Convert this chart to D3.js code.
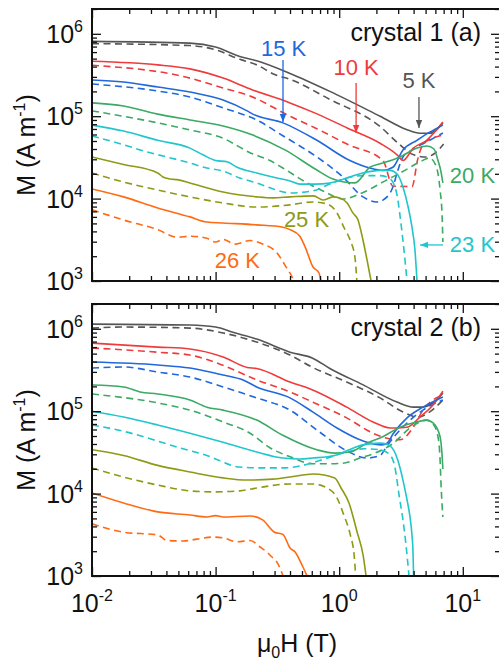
<!DOCTYPE html>
<html>
<head>
<meta charset="utf-8">
<script src="https://cdnjs.cloudflare.com/ajax/libs/d3/7.8.5/d3.min.js"></script>
<style>
  body { margin: 0; background: #fff; }
  svg { display: block; font-family: "Liberation Sans", Arial, sans-serif; }
</style>
</head>
<body>
<svg id="chart" width="499" height="661"></svg>
<script>
// Temperatures and their colours
const temps = ["5 K", "10 K", "15 K", "20 K", "23 K", "25 K", "26 K"];
const colors = ["#555555", "#ef3b3b", "#2068dc", "#3aaa64", "#1fc6cc", "#8e9a14", "#ff6a13"];

// Axis ticks
const xMajor = [0.01, 0.1, 1, 10];
const xMajorLabels = ["-2", "-1", "0", "1"];
const yMajor = [1e3, 1e4, 1e5, 1e6];
const yMajorLabels = ["3", "4", "5", "6"];

// Crystal 1: M (A/m) vs mu0H (T); solid and dashed branch per temperature
const c1_5K = [[0.01,8.1e5],[0.062,7.7e5],[0.1,6.9e5],[0.157,5.3e5],[0.215,4.7e5],[0.4,3.3e5],[0.84,2.0e5],[2.14,1.0e5],[3.5,6.9e4],[4.5,6.2e4],[5.4,6.2e4],[6.9,8.3e4]];
const c1_5K_d = [[0.01,7.6e5],[0.062,7.2e5],[0.1,6.4e5],[0.157,4.9e5],[0.215,4.2e5],[0.3,3.2e5],[0.4,2.8e5],[0.84,1.6e5],[2.14,7.5e4],[3.0,4.7e4],[4.0,3.4e4],[5.0,3.2e4],[6.0,3.6e4],[7.0,4.6e4]];
const c1_10K = [[0.01,4.65e5],[0.034,4.2e5],[0.062,3.75e5],[0.115,2.9e5],[0.197,2.1e5],[0.4,1.45e5],[0.64,1.09e5],[1.16,7.2e4],[2.14,4.7e4],[2.94,3.4e4],[3.28,2.9e4],[3.98,4.1e4],[5.1,5.1e4],[6.9,8.5e4]];
const c1_10K_d = [[0.01,4.15e5],[0.062,2.9e5],[0.115,2.2e5],[0.19,1.76e5],[0.4,1.0e5],[0.64,7.2e4],[1.19,4.5e4],[2.26,2.9e4],[2.72,1.42e4],[3.88,1.4e4],[4.34,3.1e4],[4.85,4.7e4],[6.9,5.9e4]];
const c1_15K = [[0.01,2.75e5],[0.018,2.6e5],[0.034,2.26e5],[0.062,1.97e5],[0.115,1.57e5],[0.18,1.16e5],[0.2,1.06e5],[0.351,8.3e4],[0.66,5.1e4],[1.22,2.9e4],[1.77,2.35e4],[2.26,2.2e4],[2.72,2.4e4],[3.28,3.9e4],[4.26,5.1e4],[5.4,6.4e4],[6.9,7.8e4]];
const c1_15K_d = [[0.01,2.46e5],[0.034,2.02e5],[0.062,1.71e5],[0.115,1.26e5],[0.215,9.0e4],[0.35,5.8e4],[0.66,3.2e4],[1.07,1.83e4],[1.56,1.05e4],[2.02,9.1e3],[2.26,9.6e3],[2.72,1.38e4],[2.94,2.05e4],[3.28,3.2e4],[3.88,3.9e4],[5.4,5.1e4],[6.9,6.25e4]];
const c1_20K = [[0.01,1.45e5],[0.018,1.33e5],[0.034,1.06e5],[0.062,9.0e4],[0.115,7.6e4],[0.2,5.9e4],[0.364,3.9e4],[0.66,2.22e4],[0.89,1.73e4],[1.34,1.55e4],[1.77,2.4e4],[2.26,2.7e4],[3.1,3.2e4],[4.26,4.1e4],[5.13,4.35e4],[5.85,4.0e4],[6.3,2.9e4],[6.67,2.1e4],[6.9,1.55e4]];
const c1_20K_d = [[0.01,1.16e5],[0.034,8.3e4],[0.062,6.8e4],[0.115,5.4e4],[0.19,3.6e4],[0.275,2.9e4],[0.35,2.35e4],[0.55,1.55e4],[0.74,1.24e4],[1.07,9.9e3],[1.47,1.14e4],[2.35,1.64e4],[3.4,2.2e4],[4.5,2.8e4],[5.4,3.1e4],[6.07,2.5e4],[6.55,1.27e4],[6.8,6.3e3],[6.9,2.97e3]];
const c1_23K = [[0.01,7.8e4],[0.018,6.6e4],[0.034,5.1e4],[0.062,4.1e4],[0.079,3.4e4],[0.1,2.9e4],[0.124,2.8e4],[0.149,2.4e4],[0.215,2.05e4],[0.314,1.78e4],[0.4,1.64e4],[0.48,1.5e4],[0.64,1.5e4],[0.84,1.55e4],[1.15,1.78e4],[1.55,2.05e4],[2.14,2.2e4],[2.58,2.2e4],[2.94,1.99e4],[3.28,1.38e4],[3.6,8.1e3],[3.88,4.5e3],[4.1,2.4e3],[4.26,1.0e3]];
const c1_23K_d = [[0.01,5.75e4],[0.018,4.5e4],[0.0245,3.9e4],[0.062,2.7e4],[0.085,2.35e4],[0.115,2.16e4],[0.157,1.78e4],[0.215,1.55e4],[0.31,1.27e4],[0.4,1.17e4],[0.61,1.24e4],[0.84,1.5e4],[1.15,1.78e4],[1.53,1.9e4],[2.14,1.9e4],[2.58,1.74e4],[2.94,1.1e4],[3.1,6.3e3],[3.28,3.1e3],[3.54,1.0e3]];
const c1_25K = [[0.01,3.2e4],[0.018,2.6e4],[0.034,2.05e4],[0.0375,1.83e4],[0.0428,1.73e4],[0.0487,1.7e4],[0.062,1.55e4],[0.115,1.2e4],[0.215,1.05e4],[0.29,1.02e4],[0.4,1.05e4],[0.62,1.08e4],[0.74,9.6e3],[0.89,1.05e4],[1.01,1.02e4],[1.16,8.85e3],[1.29,6.7e3],[1.42,5.5e3],[1.56,3.1e3],[1.68,1.8e3],[1.81,1.0e3]];
const c1_25K_d = [[0.01,2.05e4],[0.018,1.59e4],[0.034,1.27e4],[0.062,1.05e4],[0.115,8.85e3],[0.215,7.9e3],[0.4,8.4e3],[0.61,9.1e3],[0.8,8.6e3],[0.96,6.7e3],[1.09,4.5e3],[1.23,3.1e3],[1.34,1.95e3],[1.39,1.0e3]];
const c1_26K = [[0.01,1.31e4],[0.018,1.05e4],[0.034,7.7e3],[0.062,6.0e3],[0.085,5.2e3],[0.115,5.06e3],[0.215,4.8e3],[0.35,4.5e3],[0.4,4.2e3],[0.48,3.5e3],[0.53,2.6e3],[0.614,1.48e3],[0.687,1.25e3],[0.71,1.0e3]];
const c1_26K_d = [[0.01,7.3e3],[0.018,5.5e3],[0.034,4.2e3],[0.049,3.4e3],[0.062,3.5e3],[0.085,3.3e3],[0.1,2.97e3],[0.115,3.2e3],[0.144,2.8e3],[0.19,3.1e3],[0.242,2.8e3],[0.314,2.19e3],[0.364,1.56e3],[0.415,1.12e3],[0.43,1.0e3]];

// Crystal 2
const c2_5K = [[0.01,1.14e6],[0.062,1.11e6],[0.1,1.05e6],[0.138,9.1e5],[0.157,8.6e5],[0.215,7.5e5],[0.4,5.2e5],[0.61,4.4e5],[0.84,3.3e5],[1.55,2.1e5],[2.94,1.29e5],[3.98,1.12e5],[4.76,1.12e5],[5.74,1.26e5],[6.9,1.65e5]];
const c2_5K_d = [[0.01,1.02e6],[0.018,1.05e6],[0.062,1.02e6],[0.115,8.9e5],[0.215,6.9e5],[0.4,4.8e5],[0.61,3.4e5],[1.15,2.26e5],[2.14,1.45e5],[3.28,9.8e4],[4.34,8.5e4],[5.4,9.8e4],[6.9,1.37e5]];
const c2_10K = [[0.01,6.7e5],[0.034,6.0e5],[0.062,5.7e5],[0.115,4.55e5],[0.18,3.4e5],[0.215,3.3e5],[0.4,2.26e5],[0.61,1.81e5],[1.15,1.12e5],[1.88,7.4e4],[2.58,6.25e4],[3.54,6.4e4],[4.5,8.5e4],[5.74,1.19e5],[6.9,1.75e5]];
const c2_10K_d = [[0.01,5.85e5],[0.034,5.2e5],[0.062,4.8e5],[0.115,3.6e5],[0.215,2.4e5],[0.4,1.71e5],[0.61,1.29e5],[1.15,8.3e4],[1.88,5.4e4],[2.44,4.7e4],[3.1,4.5e4],[3.98,6.4e4],[4.76,1.03e5],[6.9,1.57e5]];
const c2_15K = [[0.01,3.95e5],[0.034,3.64e5],[0.062,3.34e5],[0.115,2.75e5],[0.167,2.39e5],[0.215,1.97e5],[0.4,1.45e5],[0.61,9.8e4],[0.96,6.25e4],[1.42,4.6e4],[1.77,4.1e4],[2.2,3.9e4],[2.44,4.1e4],[2.75,5.4e4],[3.54,8.3e4],[4.76,1.12e5],[6.9,1.49e5]];
const c2_15K_d = [[0.01,3.34e5],[0.018,3.44e5],[0.034,2.99e5],[0.062,2.6e5],[0.115,1.97e5],[0.215,1.45e5],[0.4,1.03e5],[0.66,5.9e4],[1.2,3.2e4],[1.68,2.7e4],[2.14,2.9e4],[2.44,3.8e4],[2.94,5.4e4],[3.54,7.2e4],[4.76,1.03e5],[6.9,1.37e5]];
const c2_20K = [[0.01,2.08e5],[0.018,1.97e5],[0.0245,1.71e5],[0.034,1.62e5],[0.062,1.37e5],[0.085,1.12e5],[0.115,1.03e5],[0.215,7.8e4],[0.35,5.1e4],[0.66,3.4e4],[0.92,3.1e4],[1.23,3.2e4],[1.68,4.1e4],[2.25,4.9e4],[3.1,6.4e4],[4.26,7.4e4],[5.1,7.8e4],[5.75,7.2e4],[6.55,4.9e4],[6.8,2.9e4],[6.9,1.99e4]];
const c2_20K_d = [[0.01,1.62e5],[0.034,1.26e5],[0.062,1.03e5],[0.115,7.4e4],[0.19,5.4e4],[0.275,3.6e4],[0.4,2.8e4],[0.61,2.3e4],[0.84,2.3e4],[1.1,2.35e4],[1.47,2.7e4],[1.95,3.1e4],[2.75,4.1e4],[3.74,6.25e4],[4.5,7.4e4],[5.1,7.8e4],[5.75,7.0e4],[6.3,4.9e4],[6.55,2.56e4],[6.67,1.27e4],[6.8,7.3e3],[6.9,5.2e3]];
const c2_23K = [[0.01,1.0e5],[0.018,8.5e4],[0.034,6.8e4],[0.062,5.4e4],[0.115,4.2e4],[0.215,3.2e4],[0.35,2.7e4],[0.48,2.63e4],[0.61,2.7e4],[0.92,2.9e4],[1.2,3.4e4],[1.55,3.9e4],[2.14,4.1e4],[2.4,4.0e4],[2.75,3.4e4],[2.99,2.5e4],[3.28,1.46e4],[3.54,8.4e3],[3.74,5.2e3],[3.88,3.15e3],[3.95,2.07e3],[4.0,1.0e3]];
const c2_23K_d = [[0.01,6.8e4],[0.018,5.7e4],[0.03,4.6e4],[0.045,3.8e4],[0.085,2.9e4],[0.157,2.1e4],[0.242,2.05e4],[0.35,2.05e4],[0.48,2.16e4],[0.74,2.6e4],[1.15,3.2e4],[1.6,3.5e4],[2.14,3.4e4],[2.6,2.9e4],[2.83,2.05e4],[3.05,9.6e3],[3.28,4.8e3],[3.47,2.4e3],[3.67,1.0e3]];
const c2_25K = [[0.01,3.4e4],[0.018,2.9e4],[0.034,2.2e4],[0.062,1.83e4],[0.115,1.55e4],[0.18,1.46e4],[0.29,1.5e4],[0.4,1.59e4],[0.62,1.73e4],[0.92,1.55e4],[1.035,1.17e4],[1.2,7.7e3],[1.39,3.5e3],[1.56,1.8e3],[1.65,1.0e3]];
const c2_25K_d = [[0.01,2.05e4],[0.018,1.59e4],[0.034,1.27e4],[0.062,1.08e4],[0.095,1.05e4],[0.157,1.08e4],[0.215,1.17e4],[0.4,1.31e4],[0.61,1.31e4],[0.8,1.17e4],[0.96,8.85e3],[1.09,5.5e3],[1.23,3.15e3],[1.32,1.8e3],[1.36,1.0e3]];
const c2_26K = [[0.01,1.02e4],[0.018,7.7e3],[0.034,6.0e3],[0.062,5.5e3],[0.085,5.2e3],[0.1,5.4e3],[0.115,5.2e3],[0.19,5.35e3],[0.24,4.8e3],[0.3,3.4e3],[0.35,3.2e3],[0.4,2.19e3],[0.44,1.95e3],[0.5,1.36e3],[0.55,1.0e3]];
const c2_26K_d = [[0.01,4.3e3],[0.018,3.4e3],[0.034,3.15e3],[0.0404,2.7e3],[0.0545,2.66e3],[0.0707,2.8e3],[0.095,2.97e3],[0.115,2.9e3],[0.149,2.6e3],[0.19,2.7e3],[0.229,2.25e3],[0.275,1.8e3],[0.332,1.25e3],[0.351,1.0e3]];

const crystal1Solid  = [c1_5K, c1_10K, c1_15K, c1_20K, c1_23K, c1_25K, c1_26K];
const crystal1Dashed = [c1_5K_d, c1_10K_d, c1_15K_d, c1_20K_d, c1_23K_d, c1_25K_d, c1_26K_d];
const crystal2Solid  = [c2_5K, c2_10K, c2_15K, c2_20K, c2_23K, c2_25K, c2_26K];
const crystal2Dashed = [c2_5K_d, c2_10K_d, c2_15K_d, c2_20K_d, c2_23K_d, c2_25K_d, c2_26K_d];

// Temperature labels in crystal 1 (field in T, moment in A/m), optional arrow
const tempLabels = [
  { t: 0, h: 4.42, m: 2.2e5,  arrow: [[4.42, 1.71e5], [4.42, 7.2e4]] },
  { t: 1, h: 1.37, m: 3.16e5, arrow: [[1.37, 2.53e5], [1.37, 6.25e4]] },
  { t: 2, h: 0.355, m: 5.38e5, arrow: [[0.351, 4.81e5], [0.351, 8.5e4]] },
  { t: 3, h: 11.97, m: 1.55e4, arrow: null },
  { t: 4, h: 11.97, m: 2.25e3, arrow: [[6.92, 2.74e3], [4.51, 2.74e3]] },
  { t: 5, h: 0.544, m: 4.52e3, arrow: null },
  { t: 6, h: 0.150, m: 1.44e3, arrow: null }
];

const svg = d3.select("#chart");
const left = 92, right = 500;
const x = d3.scaleLog().domain([0.01, 20]).range([left, right]);

const panels = [
  { top: 9,   bottom: 281, solid: crystal1Solid, dashed: crystal1Dashed, title: "crystal 1 (a)", xLabels: false },
  { top: 304, bottom: 576, solid: crystal2Solid, dashed: crystal2Dashed, title: "crystal 2 (b)", xLabels: true }
];

function minorTicks(lo, hi, max) {
  const out = [];
  for (let e = lo; e < hi; e++) for (let k = 2; k <= 9; k++) {
    const v = k * Math.pow(10, e);
    if (v <= max * 1.0001) out.push(v);
  }
  return out;
}
const xMinor = minorTicks(-2, 2, 20);
const yMinor = minorTicks(3, 7, 2e6);

const defs = svg.append("defs");
colors.forEach((c, i) => {
  defs.append("marker")
    .attr("id", "arr" + i)
    .attr("viewBox", "0 0 10 10")
    .attr("refX", 10).attr("refY", 5)
    .attr("markerWidth", 8).attr("markerHeight", 8)
    .attr("markerUnits", "userSpaceOnUse")
    .attr("orient", "auto")
    .append("path").attr("d", "M0,1L10,5L0,9z").attr("fill", c);
});

panels.forEach((p, pi) => {
  const y = d3.scaleLog().domain([1e3, 2e6]).range([p.bottom, p.top]);
  const g = svg.append("g");

  defs.append("clipPath").attr("id", "clip" + pi)
    .append("rect").attr("x", left).attr("y", p.top)
    .attr("width", right - left).attr("height", p.bottom - p.top);

  const line = d3.line()
    .x(d => x(d[0])).y(d => y(d[1]))
    .curve(d3.curveMonotoneX);

  const plot = g.append("g").attr("clip-path", `url(#clip${pi})`);
  p.dashed.forEach((s, i) => {
    plot.append("path").attr("d", line(s))
      .attr("fill", "none").attr("stroke", colors[i])
      .attr("stroke-width", 1.6).attr("stroke-dasharray", "7,4.5");
  });
  p.solid.forEach((s, i) => {
    plot.append("path").attr("d", line(s))
      .attr("fill", "none").attr("stroke", colors[i])
      .attr("stroke-width", 1.6);
  });

  // inward ticks on all four sides
  const addAxis = (axis, tx, ty) => {
    const a = g.append("g").attr("transform", `translate(${tx},${ty})`).call(axis);
    a.select(".domain").remove();
    a.selectAll("line").attr("stroke", "#111").attr("stroke-width", 1.3);
  };
  addAxis(d3.axisBottom(x).tickValues(xMajor).tickSize(-9).tickFormat(""), 0, p.bottom);
  addAxis(d3.axisBottom(x).tickValues(xMinor).tickSize(-5).tickFormat(""), 0, p.bottom);
  addAxis(d3.axisTop(x).tickValues(xMajor).tickSize(-9).tickFormat(""), 0, p.top);
  addAxis(d3.axisTop(x).tickValues(xMinor).tickSize(-5).tickFormat(""), 0, p.top);
  addAxis(d3.axisLeft(y).tickValues(yMajor).tickSize(-9).tickFormat(""), left, 0);
  addAxis(d3.axisLeft(y).tickValues(yMinor).tickSize(-5).tickFormat(""), left, 0);
  addAxis(d3.axisRight(y).tickValues(yMajor).tickSize(-9).tickFormat(""), right, 0);
  addAxis(d3.axisRight(y).tickValues(yMinor).tickSize(-5).tickFormat(""), right, 0);

  g.append("rect").attr("x", left).attr("y", p.top)
    .attr("width", right - left).attr("height", p.bottom - p.top)
    .attr("fill", "none").attr("stroke", "#111").attr("stroke-width", 2);

  // y tick labels
  yMajor.forEach((v, i) => {
    const t = g.append("text").attr("x", 83).attr("y", y(v) + 9)
      .attr("text-anchor", "end").attr("font-size", 25).attr("fill", "#111");
    t.append("tspan").text("10");
    t.append("tspan").attr("font-size", 16).attr("dy", -11).text(yMajorLabels[i]);
  });

  // y axis title
  const yt = g.append("text")
    .attr("transform", `translate(35,${(p.top + p.bottom) / 2}) rotate(-90)`)
    .attr("text-anchor", "middle").attr("font-size", 25).attr("fill", "#111");
  yt.append("tspan").text("M (A m");
  yt.append("tspan").attr("font-size", 16).attr("dy", -10).text("-1");
  yt.append("tspan").attr("dy", 10).text(")");

  // panel title
  g.append("text").attr("x", 481).attr("y", p.top + 32)
    .attr("text-anchor", "end").attr("font-size", 25).attr("fill", "#111")
    .text(p.title);

  if (p.xLabels) {
    xMajor.forEach((v, i) => {
      const t = g.append("text").attr("x", x(v)).attr("y", p.bottom + 36)
        .attr("text-anchor", "middle").attr("font-size", 25).attr("fill", "#111");
      t.append("tspan").text("10");
      t.append("tspan").attr("font-size", 16).attr("dy", -11).text(xMajorLabels[i]);
    });
    const xt = g.append("text").attr("x", (left + right) / 2 + 1).attr("y", p.bottom + 76)
      .attr("text-anchor", "middle").attr("font-size", 25).attr("fill", "#111");
    xt.append("tspan").text("\u03bc");
    xt.append("tspan").attr("font-size", 16).attr("dy", 6).text("0");
    xt.append("tspan").attr("dy", -6).text("H (T)");
  }

  if (pi === 0) {
    tempLabels.forEach(l => {
      g.append("text").attr("x", x(l.h)).attr("y", y(l.m))
        .attr("text-anchor", "middle").attr("font-size", 22)
        .attr("fill", colors[l.t]).text(temps[l.t]);
      if (l.arrow) {
        g.append("line")
          .attr("x1", x(l.arrow[0][0])).attr("y1", y(l.arrow[0][1]))
          .attr("x2", x(l.arrow[1][0])).attr("y2", y(l.arrow[1][1]))
          .attr("stroke", colors[l.t]).attr("stroke-width", 1.3)
          .attr("marker-end", `url(#arr${l.t})`);
      }
    });
  }
});
</script>
</body>
</html>
